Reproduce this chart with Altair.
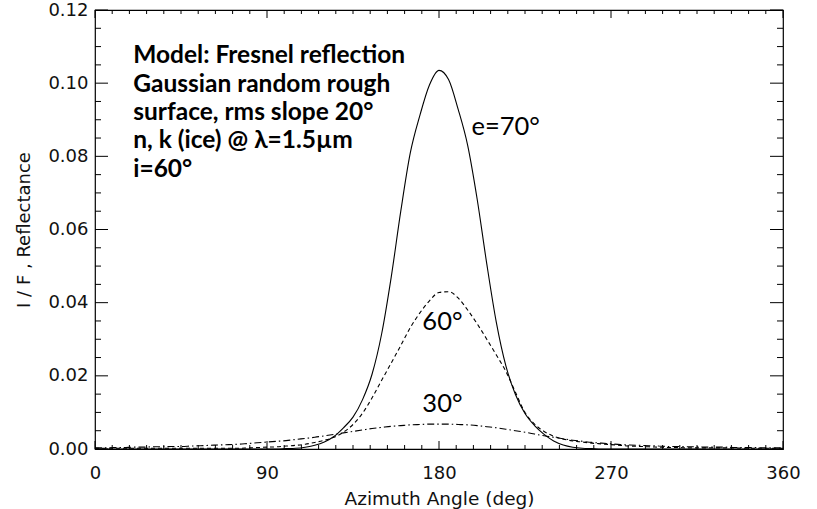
import altair as alt
import pandas as pd

# ---- data ----
angles = [0, 5, 10, 15, 20, 25, 30, 35, 40, 45, 50, 55, 60, 65, 70, 75, 80, 85, 90, 95,
          100, 105, 110, 115, 120, 125, 130, 135, 140, 145, 150, 155, 160, 165, 170, 175,
          180, 185, 190, 195, 200, 205, 210, 215, 220, 225, 230, 235, 240, 245, 250, 255,
          260, 265, 270, 275, 280, 285, 290, 295, 300, 305, 310, 315, 320, 325, 330, 335,
          340, 345, 350, 355, 360]

e70 = [0, 0, 0, 0, 0, 0, 0, 0, 0, 0, 0, 0, 0, 0, 0, 0, 0, 0, 0, 0,
       0.0001, 0.0002, 0.0005, 0.0010, 0.0019, 0.0034, 0.0058, 0.0087, 0.0135, 0.0205,
       0.0315, 0.0470, 0.0650, 0.0810, 0.0912, 0.0995, 0.1035, 0.1010, 0.0929, 0.0830,
       0.0682, 0.0506, 0.0346, 0.0227, 0.0149, 0.0097, 0.0064, 0.0040, 0.0022, 0.0011,
       0.0005, 0.0002, 0.0001, 0, 0, 0, 0, 0, 0, 0, 0, 0, 0, 0, 0, 0, 0, 0, 0, 0, 0, 0, 0]

e60 = [0.0002, 0.0002, 0.0002, 0.0002, 0.0002, 0.0002, 0.0002, 0.0002, 0.0002, 0.0002,
       0.0002, 0.0002, 0.0002, 0.0002, 0.0002, 0.0002, 0.0003, 0.0004, 0.0005, 0.0006,
       0.0008, 0.0010, 0.0013, 0.0018, 0.0024, 0.0032, 0.0046, 0.0067, 0.0098, 0.0140,
       0.0188, 0.0235, 0.0283, 0.0332, 0.0372, 0.0405, 0.0428, 0.0430, 0.0413, 0.0380,
       0.0342, 0.0300, 0.0257, 0.0212, 0.0155, 0.0100, 0.0068, 0.0048, 0.0035, 0.0027,
       0.0022, 0.0019, 0.0016, 0.0014, 0.0012, 0.0010, 0.0008, 0.0007, 0.0006, 0.0005,
       0.0004, 0.0004, 0.0003, 0.0003, 0.0003, 0.0003, 0.0003, 0.0003, 0.0002, 0.0002,
       0.0002, 0.0002, 0.0002]

e30 = [0.0003, 0.0003, 0.0004, 0.0004, 0.0005, 0.0005, 0.0006, 0.0006, 0.0007, 0.0007,
       0.0008, 0.0009, 0.0010, 0.0011, 0.0012, 0.0013, 0.0015, 0.0017, 0.0019, 0.0021,
       0.0023, 0.0026, 0.0029, 0.0032, 0.0036, 0.0040, 0.0044, 0.0048, 0.0052, 0.0056,
       0.0059, 0.0062, 0.0064, 0.0066, 0.0067, 0.0068, 0.0068, 0.0068, 0.0067, 0.0066,
       0.0064, 0.0061, 0.0058, 0.0054, 0.0050, 0.0046, 0.0041, 0.0036, 0.0032, 0.0028,
       0.0024, 0.0021, 0.0018, 0.0016, 0.0014, 0.0012, 0.0011, 0.0010, 0.0009, 0.0008,
       0.0007, 0.0007, 0.0006, 0.0006, 0.0005, 0.0005, 0.0005, 0.0004, 0.0004, 0.0004,
       0.0003, 0.0003, 0.0003]

assert len(angles) == len(e70) == len(e60) == len(e30) == 73

x_major_ticks = [0, 90, 180, 270, 360]
x_minor_ticks = [9, 18, 27, 36, 45, 54, 63, 72, 81, 99, 108, 117, 126, 135, 144, 153,
                 162, 171, 189, 198, 207, 216, 225, 234, 243, 252, 261, 279, 288, 297,
                 306, 315, 324, 333, 342, 351]
y_major_ticks = [0.0, 0.02, 0.04, 0.06, 0.08, 0.10, 0.12]
y_minor_ticks = [0.005, 0.01, 0.015, 0.025, 0.03, 0.035, 0.045, 0.05, 0.055, 0.065,
                 0.07, 0.075, 0.085, 0.09, 0.095, 0.105, 0.11, 0.115]

model_text = ["Model: Fresnel reflection",
              "Gaussian random rough",
              "surface, rms slope 20°",
              "n, k (ice) @ λ=1.5µm",
              "i=60°"]
curve_labels = ["e=70°", "60°", "30°"]
curve_label_x = [197.0, 181.8, 181.8]
curve_label_y = [0.0858, 0.0325, 0.0100]

# ---- layout ----
W, H = 688, 439
FONT = "DejaVu Sans"

xs = alt.Scale(domain=[0, 360], nice=False, zero=False)
ys = alt.Scale(domain=[0, 0.12], nice=False, zero=False)

df = pd.DataFrame({"angle": angles * 3,
                   "refl": e70 + e60 + e30,
                   "curve": ["70"] * 73 + ["60"] * 73 + ["30"] * 73})

x_enc = alt.X("angle:Q", scale=xs, axis=alt.Axis(
    values=x_major_ticks, grid=False, domain=False, ticks=False, tickSize=0,
    labelFont=FONT, labelFontSize=18, labelColor="#111", labelPadding=15,
    labelFlush=False, labelOverlap=False,
    title="Azimuth Angle (deg)", titleFont=FONT, titleFontSize=18.5,
    titleFontWeight="normal", titleColor="#111", titleY=55,
    titleBaseline="alphabetic"))
y_enc = alt.Y("refl:Q", scale=ys, axis=alt.Axis(
    values=y_major_ticks, format=".2f", grid=False, domain=False, ticks=False,
    tickSize=0, labelFont=FONT, labelFontSize=18, labelColor="#111",
    labelPadding=7, labelFlush=False, labelOverlap=False,
    title="I / F , Reflectance", titleFont=FONT, titleFontSize=18,
    titleFontWeight="normal", titleColor="#111", titleAngle=270,
    titleX=-66, titleY=219.5, titleAlign="center", titleBaseline="alphabetic"))

base = alt.Chart(df)
line70 = base.transform_filter(alt.datum.curve == "70").mark_line(
    color="black", strokeWidth=1.1, interpolate="monotone", clip=True).encode(x=x_enc, y=y_enc)
line60 = base.transform_filter(alt.datum.curve == "60").mark_line(
    color="black", strokeWidth=1.1, strokeDash=[4, 3], interpolate="monotone", clip=True).encode(
    x=alt.X("angle:Q", scale=xs), y=alt.Y("refl:Q", scale=ys))
line30 = base.transform_filter(alt.datum.curve == "30").mark_line(
    color="black", strokeWidth=1.1, strokeDash=[7, 3, 1.5, 3], interpolate="monotone", clip=True).encode(
    x=alt.X("angle:Q", scale=xs), y=alt.Y("refl:Q", scale=ys))

# inward ticks
def xticks(vals, length):
    d = pd.DataFrame({"angle": vals})
    bot = alt.Chart(d).mark_rule(color="black", strokeWidth=1).encode(
        x=alt.X("angle:Q", scale=xs), y=alt.value(H), y2=alt.value(H - length))
    top = alt.Chart(d).mark_rule(color="black", strokeWidth=1).encode(
        x=alt.X("angle:Q", scale=xs), y=alt.value(0), y2=alt.value(length))
    return [bot, top]

def yticks(vals, length):
    d = pd.DataFrame({"refl": vals})
    left = alt.Chart(d).mark_rule(color="black", strokeWidth=1).encode(
        y=alt.Y("refl:Q", scale=ys), x=alt.value(0), x2=alt.value(length))
    right = alt.Chart(d).mark_rule(color="black", strokeWidth=1).encode(
        y=alt.Y("refl:Q", scale=ys), x=alt.value(W), x2=alt.value(W - length))
    return [left, right]

tick_layers = (xticks(x_major_ticks, 8) + xticks(x_minor_ticks, 4)
               + yticks(y_major_ticks, 13) + yticks(y_minor_ticks, 6))

lab_df = pd.DataFrame({"angle": curve_label_x, "refl": curve_label_y,
                       "label": curve_labels})
lab70 = alt.Chart(lab_df.iloc[[0]]).mark_text(
    font="Lato", fontSize=25.5, align="left", baseline="alphabetic", color="black").encode(
    x=alt.X("angle:Q", scale=xs), y=alt.Y("refl:Q", scale=ys), text="label:N")
lab_others = alt.Chart(lab_df.iloc[[1, 2]]).mark_text(
    font="Lato", fontSize=25.5, align="center", baseline="alphabetic", color="black").encode(
    x=alt.X("angle:Q", scale=xs), y=alt.Y("refl:Q", scale=ys), text="label:N")

model_df = pd.DataFrame({"angle": [20.0], "refl": [0.1054]})
model = alt.Chart(model_df).mark_text(
    font="Lato", fontSize=24.5, fontWeight="bold", align="left",
    baseline="alphabetic", lineHeight=28.35, color="black").encode(
    x=alt.X("angle:Q", scale=xs), y=alt.Y("refl:Q", scale=ys),
    text=alt.value(model_text))

chart = alt.layer(line70, line60, line30, *tick_layers, lab70, lab_others, model).properties(
    width=W, height=H,
    autosize=alt.AutoSizeParams(type="none"),
    padding={"left": 95, "top": 10, "right": 34, "bottom": 60},
    background="white",
).configure_view(stroke="black", strokeWidth=1.2)

chart.save("out.html", embed_options={"renderer": "svg", "actions": False})
